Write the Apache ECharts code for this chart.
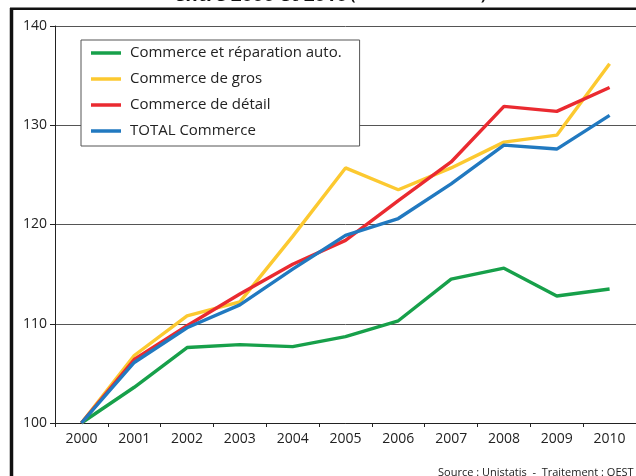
<!DOCTYPE html>
<html>
<head>
<meta charset="utf-8">
<script src="https://cdn.jsdelivr.net/npm/echarts@6/dist/echarts.min.js"></script>
<style>html,body{margin:0;padding:0;background:#fff;}#c{width:636px;height:476px;}</style>
</head>
<body>
<div id="c"></div>
<script>
var years = ['2000','2001','2002','2003','2004','2005','2006','2007','2008','2009','2010'];
var autoRepair = [100, 103.6, 107.6, 107.9, 107.7, 108.7, 110.3, 114.5, 115.6, 112.8, 113.5];
var wholesale  = [100, 106.8, 110.8, 112.2, 118.8, 125.7, 123.5, 125.7, 128.3, 129.0, 136.2];
var retail     = [100, 106.4, 109.8, 113.0, 116.0, 118.4, 122.4, 126.3, 131.9, 131.4, 133.8];
var total      = [100, 106.1, 109.6, 111.9, 115.5, 118.9, 120.6, 124.1, 128.0, 127.6, 131.0];
var seriesNames = ['Commerce et réparation auto.', 'Commerce de gros', 'Commerce de détail', 'TOTAL Commerce'];
var yTicks = [100, 110, 120, 130, 140];

var FONT = 'Open Sans';
var colors = ['#17a04a', '#fcc930', '#ea2a30', '#2179c0'];
var dataSets = [autoRepair, wholesale, retail, total];

var chart = echarts.init(document.getElementById('c'), null, {renderer: 'canvas'});
chart.setOption({
  animation: false,
  backgroundColor: '#fff',
  textStyle: {fontFamily: FONT},
  grid: {left: 55, right: 0, top: 26, bottom: 53, containLabel: false},
  legend: {
    orient: 'vertical',
    left: 81, top: 40,
    padding: [5, 18, 7, 10],
    itemGap: 10,
    itemWidth: 30, itemHeight: 3.5,
    itemStyle: {borderWidth: 0},
    icon: 'rect',
    backgroundColor: '#fff',
    borderColor: '#555', borderWidth: 1,
    textStyle: {fontFamily: FONT, fontSize: 15, color: '#222', lineHeight: 16, padding: [0,0,0,4]},
    data: seriesNames
  },
  xAxis: {
    type: 'category',
    data: years,
    boundaryGap: true,
    axisLine: {lineStyle: {color: '#222', width: 1}},
    axisTick: {show: true, interval: 0, length: 4, lineStyle: {color: '#222'}},
    axisLabel: {interval: 0, fontFamily: FONT, fontSize: 14, color: '#222', margin: 9},
    splitLine: {show: false}
  },
  yAxis: {
    type: 'value',
    min: 100, max: 140, interval: 10,
    axisLine: {show: true, lineStyle: {color: '#222', width: 1}},
    axisTick: {show: true, length: 5, lineStyle: {color: '#222'}},
    axisLabel: {fontFamily: FONT, fontSize: 14, color: '#222', margin: 8,
      customValues: yTicks},
    splitLine: {show: true, lineStyle: {color: '#555', width: 1}}
  },
  series: seriesNames.map(function (n, i) {
    return {
      name: n, type: 'line', data: dataSets[i],
      symbol: 'none', showSymbol: false,
      lineStyle: {color: colors[i], width: 3.4},
      itemStyle: {color: colors[i]},
      z: 3 + i
    };
  }),
  graphic: [
    {type: 'line', shape: {x1: 11.5, y1: 8, x2: 11.5, y2: 476}, style: {stroke: '#111', lineWidth: 3.5}, z: 100},
    {type: 'line', shape: {x1: 10, y1: 8.7, x2: 636, y2: 8.7}, style: {stroke: '#111', lineWidth: 2.6}, z: 100},
    {type: 'text', x: 330, y: 5, z: 100,
      style: {
        text: '{a|entre 2000 et 2010} {b|(base 100 en 2000)}',
        align: 'center', verticalAlign: 'bottom',
        rich: {
          a: {fontFamily: FONT, fontWeight: 'bold', fontSize: 19, fill: '#111'},
          b: {fontFamily: FONT, fontWeight: 'bold', fontSize: 15, fill: '#111'}
        }
      }
    },
    {type: 'text', x: 438, y: 467, z: 100,
      style: {text: 'Source : Unistatis  -  Traitement : OEST', fontFamily: FONT, fontSize: 11, fill: '#222', align: 'left', verticalAlign: 'top'}}
  ]
});
</script>
</body>
</html>
